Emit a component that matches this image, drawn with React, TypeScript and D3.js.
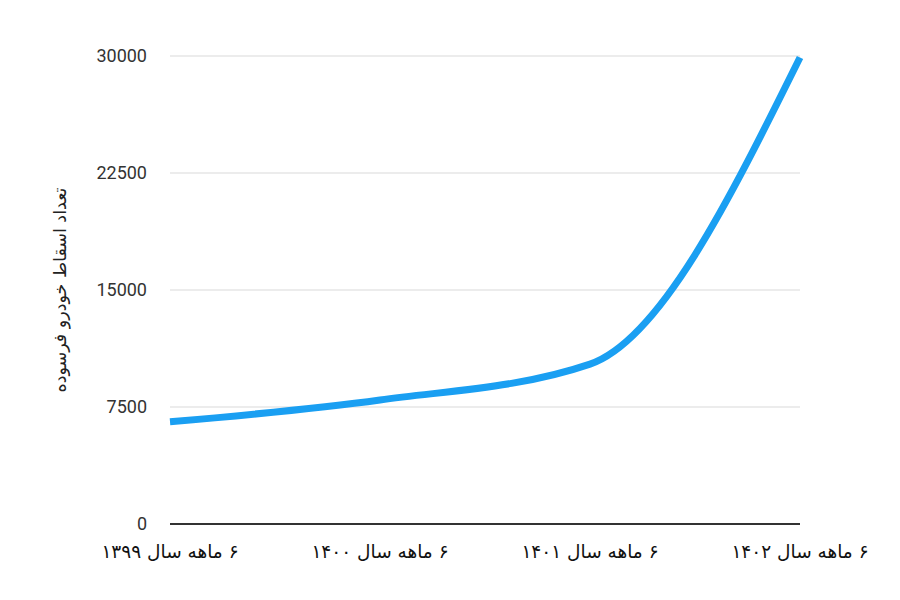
import React from "react";
import * as d3 from "d3";

const categories = ["۶ ماهه سال ۱۳۹۹", "۶ ماهه سال ۱۴۰۰", "۶ ماهه سال ۱۴۰۱", "۶ ماهه سال ۱۴۰۲"];
const values = [6550, 7950, 10250, 29900];
const yTicks = [0, 7500, 15000, 22500, 30000];
const yTitle = "تعداد اسقاط خودرو فرسوده";

export default function App() {
  const W = 900, H = 600;
  const x = d3.scalePoint<string>().domain(categories).range([170, 800]);
  const y = d3.scaleLinear().domain([0, 30000]).range([524, 56]);
  const line = d3
    .line<number>()
    .x((_, i) => x(categories[i]) as number)
    .y((d) => y(d))
    .curve(d3.curveMonotoneX);
  return (
    <svg width={W} height={H} style={{ position: "absolute", left: 0, top: 0, background: "#fff" }}>
      {yTicks.map((t) => (
        <g key={t}>
          {t !== 0 && <line x1={170} x2={800} y1={y(t)} y2={y(t)} stroke="#d9d9d9" strokeWidth={1} />}
          <text x={147} y={y(t)} dy="0.35em" textAnchor="end" fontFamily="Roboto, 'DejaVu Sans'" fontSize={18} fill="#333">
            {t}
          </text>
        </g>
      ))}
      <line x1={170} x2={800} y1={y(0)} y2={y(0)} stroke="#333" strokeWidth={2} />
      {categories.map((c) => (
        <text key={c} x={x(c)} y={552} dy="0.35em" textAnchor="middle" direction="rtl" fontFamily="'DejaVu Sans', Roboto" fontSize={18.5} fill="#111">
          {c}
        </text>
      ))}
      <text
        transform={`translate(60, 290) rotate(-90)`}
        textAnchor="middle"
        dy="0.35em"
        direction="rtl"
        fontFamily="'DejaVu Sans', Roboto"
        fontSize={17.5}
        fill="#222"
      >
        {yTitle}
      </text>
      <path d={line(values) || ""} fill="none" stroke="#1a9ff2" strokeWidth={7} strokeLinecap="butt" />
    </svg>
  );
}
